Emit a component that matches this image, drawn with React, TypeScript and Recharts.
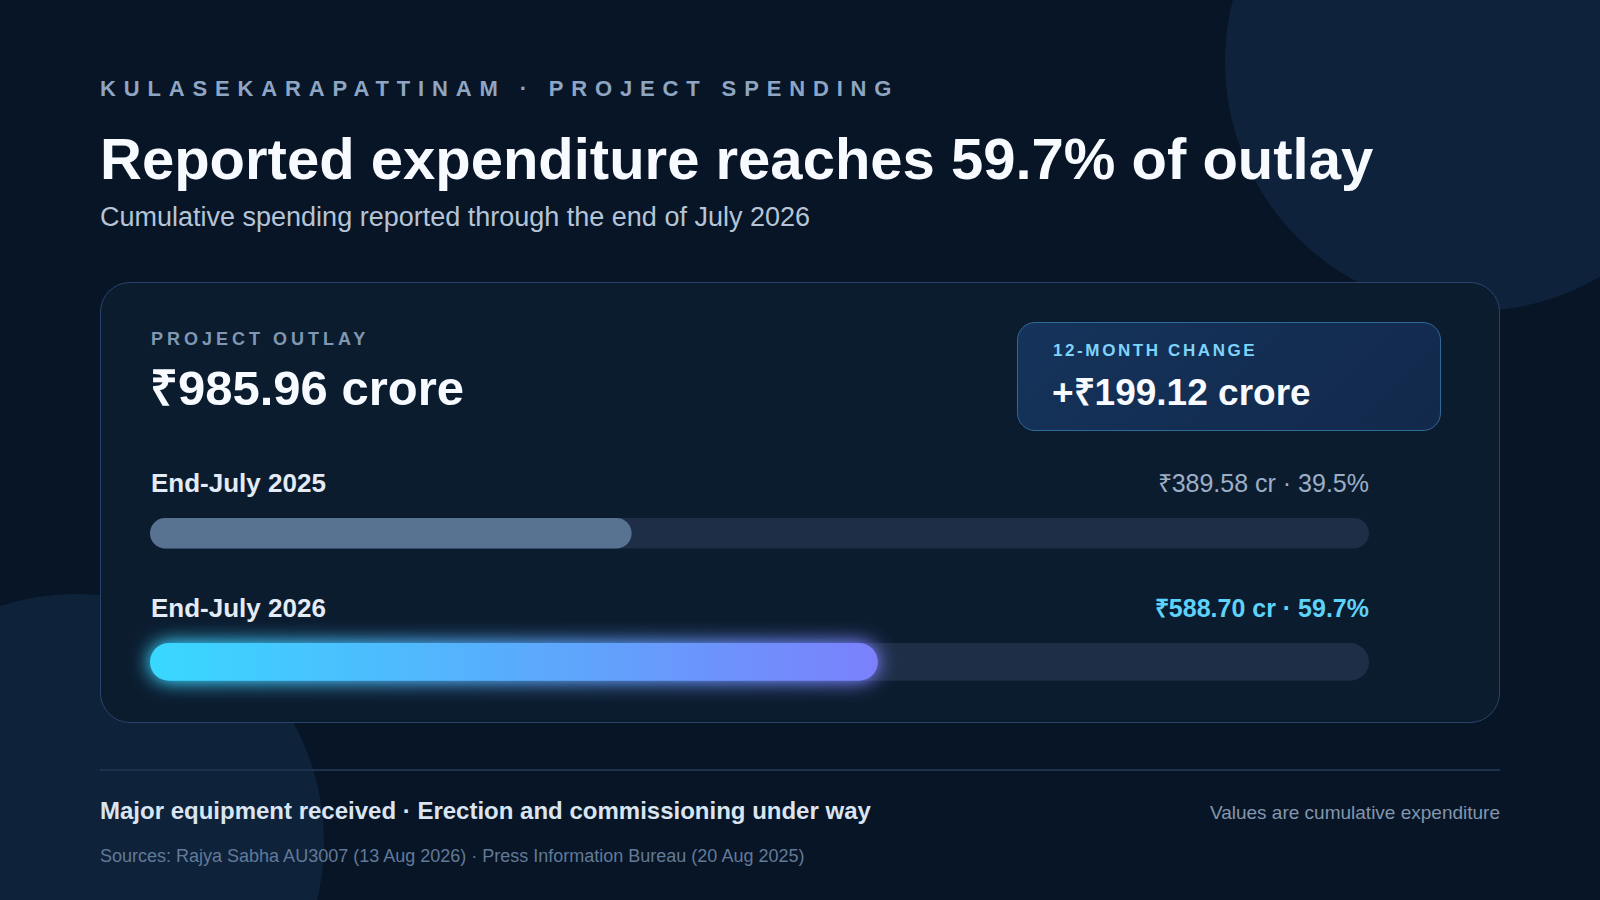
import React from "react";
import { BarChart, Bar, XAxis, YAxis } from "recharts";

// values
const periods = ["End-July 2025", "End-July 2026"];
const spent = [389.58, 588.7];
const shares = [39.5, 59.7];
const outlay = 985.96;
const change = 199.12;
const sources = ["Rajya Sabha AU3007 (13 Aug 2026)", "Press Information Bureau (20 Aug 2025)"];

const FONT = '"Liberation Sans", Arial, Helvetica, sans-serif';
const TRACK_X = 150;
const TRACK_W = 1219;
const PAD = 32;

interface TProps {
  x?: number;
  right?: number;
  baseline: number;
  size: number;
  weight?: number;
  color: string;
  spacing?: number;
  children: React.ReactNode;
}

// absolutely placed text, positioned by its baseline
function T({ x, right, baseline, size, weight = 400, color, spacing = 0, children }: TProps) {
  return (
    <div
      style={{
        position: "absolute",
        left: x,
        right,
        top: baseline - size * 0.8465,
        fontSize: size,
        lineHeight: `${size}px`,
        fontWeight: weight,
        color,
        letterSpacing: spacing,
        whiteSpace: "nowrap",
      }}
    >
      {children}
    </div>
  );
}

function GlowBar(props: any) {
  const { x, y, width, height } = props;
  if (!width || width <= 0) return null;
  return (
    <rect
      x={x}
      y={y}
      width={width}
      height={height}
      rx={height / 2}
      ry={height / 2}
      fill="url(#spendGrad)"
      filter="url(#spendGlow)"
    />
  );
}

function ProgressRow({ idx, top, h, highlight }: { idx: number; top: number; h: number; highlight: boolean }) {
  const data = [{ name: periods[idx], value: spent[idx] }];
  return (
    <div style={{ position: "absolute", left: TRACK_X - PAD, top: top - PAD }}>
      <BarChart
        width={TRACK_W + PAD * 2}
        height={h + PAD * 2}
        data={data}
        layout="vertical"
        margin={{ top: PAD, right: PAD, bottom: PAD, left: PAD }}
        barCategoryGap={0}
      >
        <defs>
          <linearGradient id="spendGrad" x1="0" y1="0" x2="1" y2="0">
            <stop offset="0%" stopColor="#38d8ff" />
            <stop offset="100%" stopColor="#7b80fb" />
          </linearGradient>
          <filter id="spendGlow" x="-10%" y="-120%" width="120%" height="340%">
            <feGaussianBlur in="SourceGraphic" stdDeviation="10" result="blur" />
            <feComponentTransfer in="blur" result="soft">
              <feFuncA type="linear" slope="1.25" />
            </feComponentTransfer>
            <feMerge>
              <feMergeNode in="soft" />
              <feMergeNode in="SourceGraphic" />
            </feMerge>
          </filter>
        </defs>
        <XAxis type="number" domain={[0, outlay]} hide />
        <YAxis type="category" dataKey="name" hide />
        <Bar
          dataKey="value"
          barSize={h}
          isAnimationActive={false}
          fill="#587292"
          radius={h / 2}
          background={{ fill: "#1d2e46", radius: h / 2 } as any}
          shape={highlight ? <GlowBar /> : undefined}
        />
      </BarChart>
    </div>
  );
}

export default function App() {
  return (
    <div
      style={{
        position: "fixed",
        left: 0,
        top: 0,
        width: 1600,
        height: 900,
        overflow: "hidden",
        background: "#071526",
        fontFamily: FONT,
      }}
    >
      {/* background discs */}
      <div style={{ position: "absolute", left: 1474 - 249, top: 62 - 249, width: 498, height: 498, borderRadius: "50%", background: "#0e233b" }} />
      <div style={{ position: "absolute", left: 76 - 248, top: 842 - 248, width: 496, height: 496, borderRadius: "50%", background: "#0e223a" }} />

      <T x={100} baseline={97} size={22} weight={700} color="#8ea5c3" spacing={7.85}>
        KULASEKARAPATTINAM · PROJECT SPENDING
      </T>
      <T x={100} baseline={179.5} size={58} weight={700} color="#f7faff">
        Reported expenditure reaches {shares[1]}% of outlay
      </T>
      <T x={100} baseline={226.5} size={27} color="#b5c4d7">
        Cumulative spending reported through the end of July 2026
      </T>

      {/* card */}
      <div
        style={{
          position: "absolute",
          left: 100,
          top: 282,
          width: 1400,
          height: 441,
          boxSizing: "border-box",
          borderRadius: 30,
          border: "1.5px solid #29446a",
          background: "#0c1c2f",
        }}
      />

      <T x={151} baseline={345.5} size={18} weight={700} color="#8097b3" spacing={4}>
        PROJECT OUTLAY
      </T>
      <T x={150} baseline={405} size={49} weight={700} color="#f7faff">
        ₹{outlay.toFixed(2)} crore
      </T>

      <div
        style={{
          position: "absolute",
          left: 1017,
          top: 321.5,
          width: 424,
          height: 109,
          boxSizing: "border-box",
          borderRadius: 18,
          border: "1.5px solid #2d6a9a",
          background: "linear-gradient(135deg, #15335b 0%, #12294b 100%)",
        }}
      />
      <T x={1053} baseline={356.7} size={17} weight={700} color="#7fd4fb" spacing={2.6}>
        12-MONTH CHANGE
      </T>
      <T x={1052} baseline={405} size={37} weight={700} color="#f7faff">
        +₹{change.toFixed(2)} crore
      </T>

      {/* row 1 */}
      <T x={151} baseline={492.5} size={26} weight={700} color="#e3ebf6">
        {periods[0]}
      </T>
      <T right={1600 - 1369} baseline={492.5} size={25} color="#9cafc7">
        ₹{spent[0].toFixed(2)} cr · {shares[0]}%
      </T>
      <ProgressRow idx={0} top={516} h={34} highlight={false} />

      {/* row 2 */}
      <T x={151} baseline={617} size={26} weight={700} color="#e3ebf6">
        {periods[1]}
      </T>
      <T right={1600 - 1369} baseline={617} size={25} weight={700} color="#5ed2fa">
        ₹{spent[1].toFixed(2)} cr · {shares[1]}%
      </T>
      <ProgressRow idx={1} top={641} h={42} highlight={true} />

      {/* footer */}
      <div style={{ position: "absolute", left: 100, top: 769, width: 1400, height: 1.5, background: "#1d334d" }} />
      <T x={100} baseline={819} size={24} weight={700} color="#dbe5f2">
        Major equipment received · Erection and commissioning under way
      </T>
      <T right={100} baseline={819} size={19} color="#8496ad">
        Values are cumulative expenditure
      </T>
      <T x={100} baseline={862.5} size={18} color="#627a98">
        Sources: {sources.join(" · ")}
      </T>
    </div>
  );
}
